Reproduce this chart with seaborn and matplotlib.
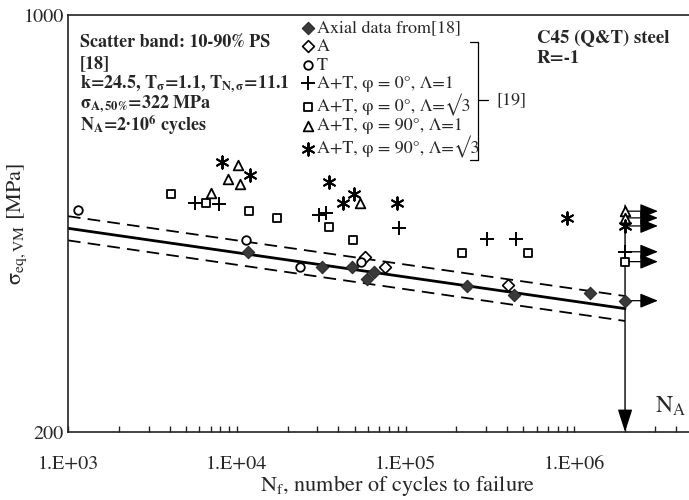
import numpy as np
import pandas as pd
import matplotlib
matplotlib.use('Agg')
import matplotlib.pyplot as plt
import seaborn as sns
from matplotlib.lines import Line2D

# ---- data (N in cycles, sigma in MPa) ----
axial_N = [11650, 31970, 48130, 59080, 64980, 231100, 438700, 1237000]
axial_s = [401, 378, 378, 361, 371, 351, 340, 342]

A_N = [57490, 75510, 404300]
A_s = [393, 378, 353]

T_N = [1146, 11340, 23700, 54430]
T_s = [471, 420, 378, 386]

p0l1_N = [5655, 7843, 30690, 33760, 91400, 303500, 450800]
p0l1_s = [484, 482, 462, 466, 440, 421, 421]

p0l3_N = [4076, 6569, 11810, 17300, 35180, 48790, 215900, 531100]
p0l3_s = [501, 484, 469, 457, 441, 420, 399, 399]

p90l1_N = [7036, 8868, 10165, 10447, 53700]
p90l1_s = [503, 531, 560, 521, 484]

p90l3_N = [8173, 11977, 35180, 42570, 49460, 88940, 904000]
p90l3_s = [567, 539, 525, 484, 501, 484, 457]

# run-outs at N_A
runout_series = ['axial', 'p0l1', 'p0l3', 'p90l1', 'p90l1', 'p90l3']
runout_s = [332, 401, 386, 469, 457, 443]
N_A = 2e6

# scatter band lines (end points)
band_N = [1e3, 2e6]
band_50 = [439, 322]
band_10 = [460, 338]
band_90 = [419, 307]

labels = {
    'axial': 'Axial data from[18]',
    'A': 'A',
    'T': 'T',
    'p0l1': 'A+T, φ = 0°, Λ=1',
    'p0l3': 'A+T, φ = 0°, Λ=√3',
    'p90l1': 'A+T, φ = 90°, Λ=1',
    'p90l3': 'A+T, φ = 90°, Λ=√3',
}
series = {
    'axial': (axial_N, axial_s),
    'A': (A_N, A_s),
    'T': (T_N, T_s),
    'p0l1': (p0l1_N, p0l1_s),
    'p0l3': (p0l3_N, p0l3_s),
    'p90l1': (p90l1_N, p90l1_s),
    'p90l3': (p90l3_N, p90l3_s),
}
styles = {
    'axial': dict(marker='D', s=40, color='#3a3a3a', edgecolor='#2a2a2a', linewidth=0.8),
    'A': dict(marker='D', s=36, color='white', edgecolor='black', linewidth=1.2),
    'T': dict(marker='o', s=38, color='white', edgecolor='black', linewidth=1.3),
    'p0l1': dict(marker='+', s=110, color='black', linewidth=1.4),
    'p0l3': dict(marker='s', s=26, color='white', edgecolor='black', linewidth=1.3),
    'p90l1': dict(marker='^', s=48, color='white', edgecolor='black', linewidth=1.3),
    'p90l3': dict(marker=(6, 2, 0), s=80, color='black', linewidth=1.4),
}

sns.set_style('ticks')
plt.rcParams['font.family'] = ['STIXGeneral', 'DejaVu Serif']
plt.rcParams['mathtext.fontset'] = 'stix'

W, H = 689, 500
fig = plt.figure(figsize=(W / 100, H / 100), dpi=100)
L, R, T, B = 68, 689, 15, 432
ax = fig.add_axes([L / W, 1 - B / H, (R - L) / W, (B - T) / H])


def frac(px, py):
    return (px - L) / (R - L), (B - py) / (B - T)


# band lines
sns.lineplot(x=band_N, y=band_50, ax=ax, color='black', lw=2.0)
sns.lineplot(x=band_N, y=band_10, ax=ax, color='black', lw=1.3, linestyle=(0, (7, 4)))
sns.lineplot(x=band_N, y=band_90, ax=ax, color='black', lw=1.3, linestyle=(0, (7, 4)))

# data points
for key, (n, s) in series.items():
    sns.scatterplot(x=n, y=s, ax=ax, label=labels[key], zorder=4, **styles[key])

# run-outs with arrows
for key, s in zip(runout_series, runout_s):
    sns.scatterplot(x=[N_A], y=[s], ax=ax, zorder=4, legend=False, **styles[key])
    ax.annotate('', xy=(3.13e6, s), xytext=(N_A, s),
                arrowprops=dict(arrowstyle='-|>,head_length=1.1,head_width=0.45',
                                mutation_scale=10, color='black', lw=0.9,
                                shrinkA=0, shrinkB=0), zorder=3)

# N_A vertical arrow
ax.annotate('', xy=(N_A, 200), xytext=(N_A, 480),
            arrowprops=dict(arrowstyle='-|>,head_length=1.4,head_width=0.45',
                            mutation_scale=10, color='black', lw=1.0,
                            shrinkA=0, shrinkB=0), zorder=3)
ax.text(*frac(655, 413), r'N$_\mathrm{A}$', transform=ax.transAxes, fontsize=17,
        ha='left', va='baseline')

ax.set_xscale('log')
ax.set_yscale('log')
ax.set_xlim(1e3, 10 ** 6.68)
ax.set_ylim(200, 1000)

ax.set_xticks([1e3, 1e4, 1e5, 1e6])
ax.set_xticklabels(['1.E+03', '1.E+04', '1.E+05', '1.E+06'])
ax.set_yticks([200, 1000])
ax.set_yticklabels(['200', '1000'])
ax.yaxis.set_minor_locator(matplotlib.ticker.NullLocator())
ax.tick_params(axis='x', which='both', direction='in', length=4.5, width=1.0,
               labelsize=14.5, pad=17)
ax.tick_params(axis='y', which='both', length=0, labelsize=14.5, pad=3)

for sp in ['left', 'bottom', 'top']:
    ax.spines[sp].set_linewidth(1.2)
    ax.spines[sp].set_color('#222222')
ax.spines['right'].set_visible(False)

ax.set_xlabel(r'N$_\mathrm{f}$, number of cycles to failure', fontsize=16)
ax.xaxis.set_label_coords(frac(397, 0)[0], frac(0, 473)[1])
ax.set_ylabel(r'σ$_\mathrm{eq,VM}$ [MPa]', fontsize=16)
ax.yaxis.set_label_coords(frac(29, 0)[0], 0.5)

# legend
leg = ax.legend(loc='upper left', bbox_to_anchor=frac(303, 20), frameon=False,
                fontsize=13, handlelength=0.6, handletextpad=0.15,
                labelspacing=0.1, borderaxespad=0, borderpad=0)

# bracket for [19]
bx, by0, by1, bym = 478, 42, 160, 100
for (x0, y0), (x1, y1) in [((470, by0), (bx, by0)), ((bx, by0), (bx, by1)),
                           ((470, by1), (bx, by1)), ((bx, bym), (488, bym))]:
    ax.add_line(Line2D([frac(x0, y0)[0], frac(x1, y1)[0]],
                       [frac(x0, y0)[1], frac(x1, y1)[1]],
                       transform=ax.transAxes, color='black', lw=0.9, clip_on=False))
ax.text(*frac(496, bym), '[19]', transform=ax.transAxes, fontsize=13,
        ha='left', va='center')

# info box
box_lines = [
    (47, r'Scatter band: 10-90% PS'),
    (68, r'[18]'),
    (88, r'k=24.5, T$_{\mathbf{σ}}$=1.1, T$_{\mathbf{N,σ}}$=11.1'),
    (108, r'$\mathbf{σ_{A,50\%}}$=322 MPa'),
    (131, r'N$_{\mathbf{A}}$=2·10$^{\mathbf{6}}$ cycles'),
]
for y, txt in box_lines:
    ax.text(*frac(80, y), txt, transform=ax.transAxes, fontsize=13,
            fontweight='bold', ha='left', va='baseline')

ax.text(*frac(537, 43), 'C45 (Q&T) steel', transform=ax.transAxes, fontsize=13.5,
        fontweight='bold', ha='left', va='baseline')
ax.text(*frac(537, 63), 'R=-1', transform=ax.transAxes, fontsize=13.5,
        fontweight='bold', ha='left', va='baseline')

fig.savefig('out.png', dpi=100)
